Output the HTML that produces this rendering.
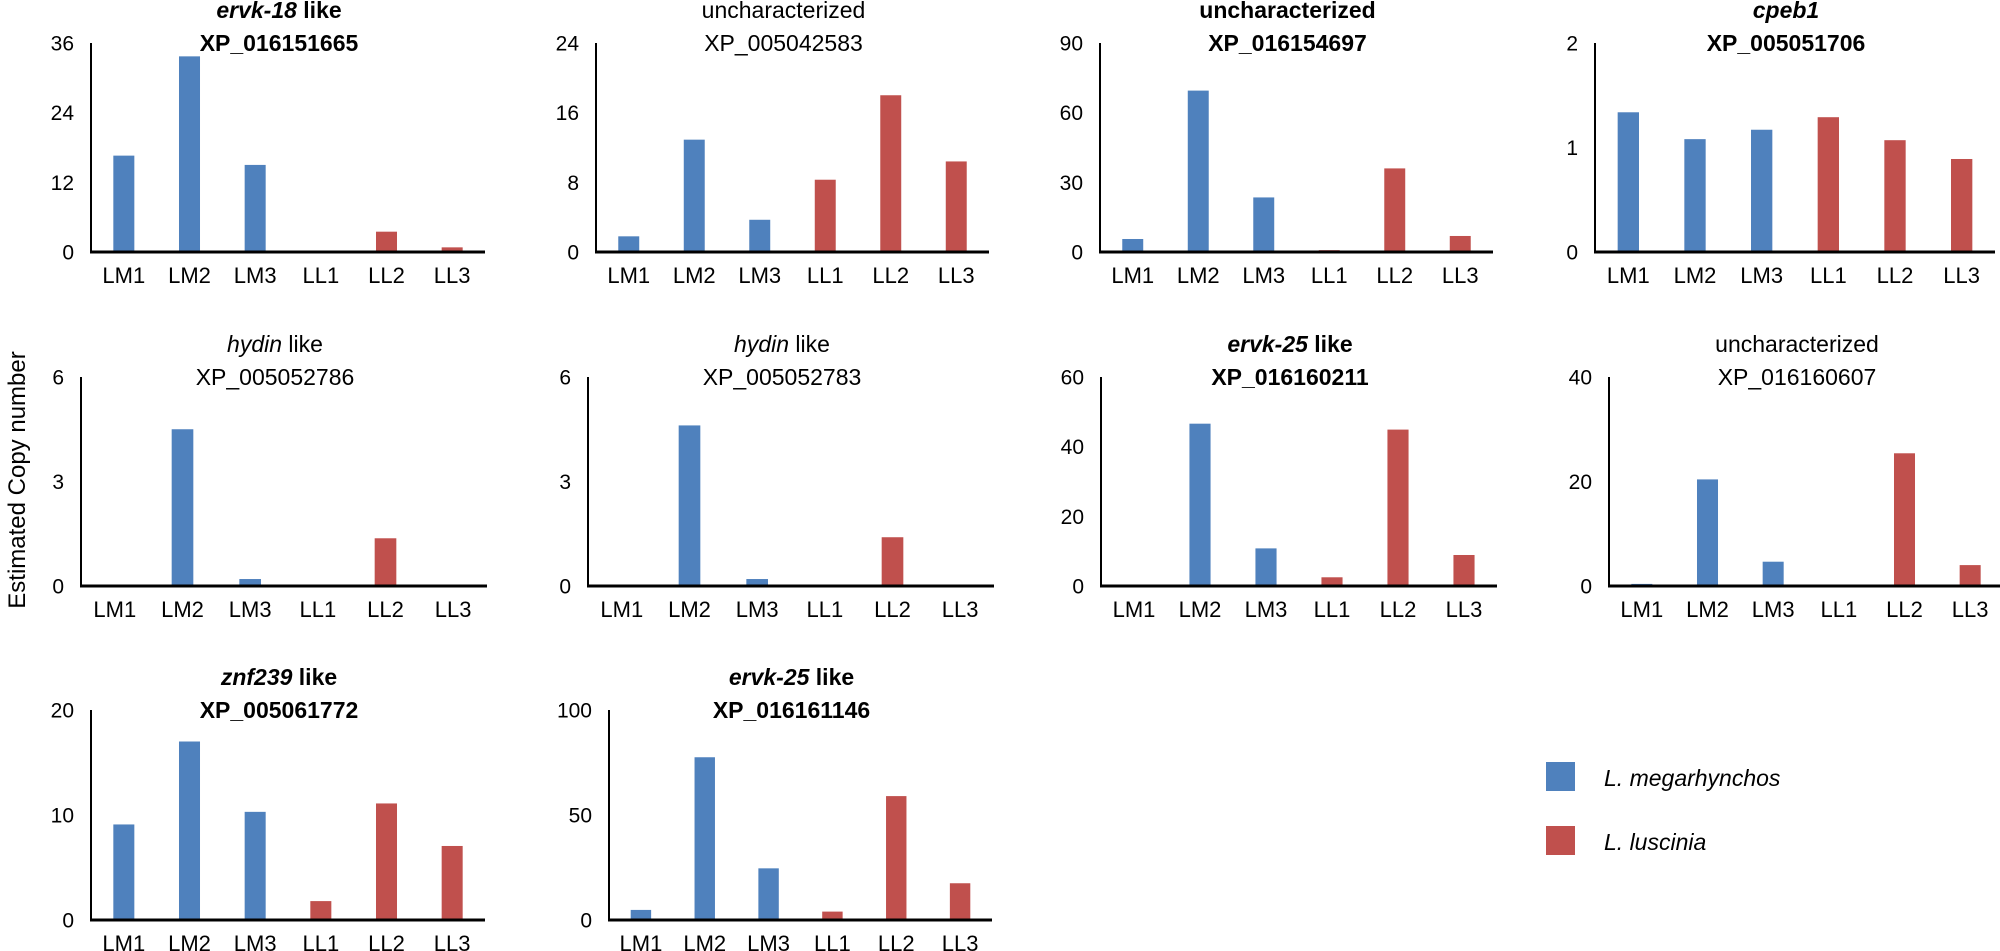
<!DOCTYPE html>
<html><head><meta charset="utf-8">
<style>
html,body{margin:0;padding:0;background:#fff;}
svg{display:block;font-family:"Liberation Sans",Arial,sans-serif;}
</style></head>
<body>
<svg id="s" width="2000" height="951" xmlns="http://www.w3.org/2000/svg"></svg>
<script>
const panels=[
 {x0:91,x1:485,top:43,zero:252,max:36,ticks:[0,12,24,36],t1:[["ervk-18",1,1],[" like",0,1]],t2b:1,t2:"XP_016151665",v:[16.6,33.7,15,0,3.5,0.8]},
 {x0:596,x1:989,top:43,zero:252,max:24,ticks:[0,8,16,24],t1:[["uncharacterized",0,0]],t2b:0,t2:"XP_005042583",v:[1.8,12.9,3.7,8.3,18,10.4]},
 {x0:1100,x1:1493,top:43,zero:252,max:90,ticks:[0,30,60,90],t1:[["uncharacterized",0,1]],t2b:1,t2:"XP_016154697",v:[5.6,69.5,23.5,0.8,36,6.9]},
 {x0:1595,x1:1995,top:43,zero:252,max:2,ticks:[0,1,2],t1:[["cpeb1",1,1]],t2b:1,t2:"XP_005051706",v:[1.337,1.08,1.17,1.29,1.07,0.89]},
 {x0:81,x1:487,top:377,zero:586,max:6,ticks:[0,3,6],t1:[["hydin",1,0],[" like",0,0]],t2b:0,t2:"XP_005052786",v:[0,4.5,0.2,0,1.37,0]},
 {x0:588,x1:994,top:377,zero:586,max:6,ticks:[0,3,6],t1:[["hydin",1,0],[" like",0,0]],t2b:0,t2:"XP_005052783",v:[0,4.61,0.2,0,1.4,0]},
 {x0:1101,x1:1497,top:377,zero:586,max:60,ticks:[0,20,40,60],t1:[["ervk-25",1,1],[" like",0,1]],t2b:1,t2:"XP_016160211",v:[0.4,46.6,10.8,2.5,44.9,8.9]},
 {x0:1609,x1:2003,top:377,zero:586,max:40,ticks:[0,20,40],t1:[["uncharacterized",0,0]],t2b:0,t2:"XP_016160607",v:[0.4,20.4,4.65,0,25.4,4.0]},
 {x0:91,x1:485,top:710,zero:920,max:20,ticks:[0,10,20],t1:[["znf239",1,1],[" like",0,1]],t2b:1,t2:"XP_005061772",v:[9.1,17,10.3,1.8,11.1,7.05]},
 {x0:609,x1:992,top:710,zero:920,max:100,ticks:[0,50,100],t1:[["ervk-25",1,1],[" like",0,1]],t2b:1,t2:"XP_016161146",v:[4.8,77.5,24.6,4,59,17.5]}
];
const cats=["LM1","LM2","LM3","LL1","LL2","LL3"];
let h="";
for(const p of panels){
 const cw=(p.x1-p.x0)/6, bw=cw*0.32, H=p.zero-p.top;
 p.v.forEach((v,i)=>{
  if(v<=0)return;
  const bh=v/p.max*H, cx=p.x0+cw*(i+0.5);
  h+=`<rect x="${cx-bw/2}" y="${p.zero-bh}" width="${bw}" height="${bh}" fill="${i<3?'#4f81bd':'#c0504d'}"/>`;
  });
 h+=`<line x1="${p.x0}" y1="${p.top}" x2="${p.x0}" y2="${p.zero}" stroke="#000" stroke-width="2"/>`;
 h+=`<line x1="${p.x0-1}" y1="${p.zero}" x2="${p.x1}" y2="${p.zero}" stroke="#000" stroke-width="3"/>`;
 for(const t of p.ticks){
  const y=p.zero-t/p.max*H;
  h+=`<text x="${p.x0-17}" y="${y+7.5}" font-size="21" text-anchor="end">${t}</text>`;
 }
 cats.forEach((c,i)=>{h+=`<text x="${p.x0+cw*(i+0.5)}" y="${p.zero+31}" font-size="22" text-anchor="middle">${c}</text>`;});
 const tc=(p.x0+p.x1)/2-9;
 let t1=`<text x="${tc}" y="${p.top-25}" font-size="23" text-anchor="middle">`;
 for(const [s,it,b] of p.t1){t1+=`<tspan font-style="${it?'italic':'normal'}" font-weight="${b?'bold':'normal'}">${s}</tspan>`;}
 h+=t1+"</text>";
 h+=`<text x="${tc}" y="${p.top+8}" font-size="23" text-anchor="middle" font-weight="${p.t2b?'bold':'normal'}">${p.t2}</text>`;
}
h+=`<text transform="translate(25,480) rotate(-90)" font-size="24" text-anchor="middle">Estimated Copy number</text>`;
h+=`<rect x="1546" y="762" width="29" height="29" fill="#4f81bd"/>`;
h+=`<rect x="1546" y="826" width="29" height="29" fill="#c0504d"/>`;
h+=`<text x="1604" y="786" font-size="23" font-style="italic">L. megarhynchos</text>`;
h+=`<text x="1604" y="850" font-size="23" font-style="italic">L. luscinia</text>`;
document.getElementById("s").innerHTML=h;
</script>
</body></html>
